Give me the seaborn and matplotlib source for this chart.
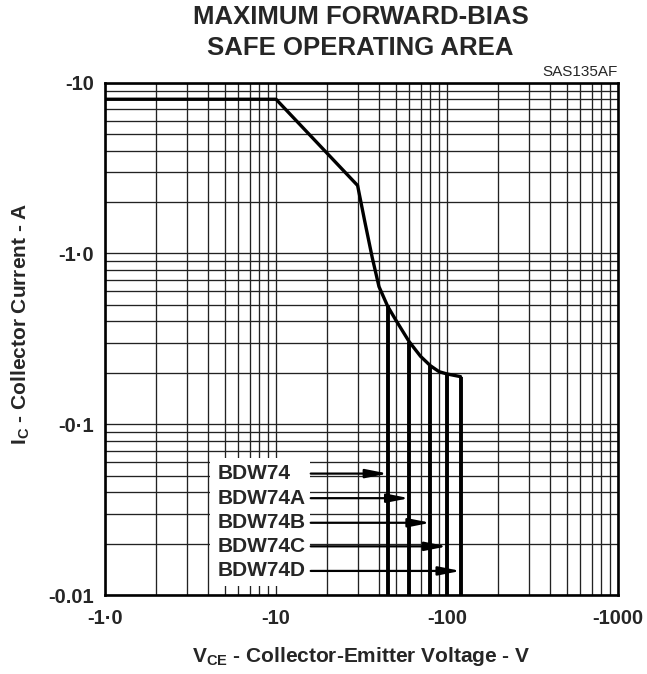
import numpy as np
import pandas as pd
import matplotlib
matplotlib.use("Agg")
import matplotlib.pyplot as plt
from matplotlib.ticker import LogLocator, FixedLocator, FixedFormatter, NullFormatter
from matplotlib.patches import Rectangle
import seaborn as sns

# ---- data (magnitudes; axes show negative values for PNP device) ----
soa_voltage = [1, 10, 30, 33, 36.5, 40, 45, 50, 60, 70, 80, 90, 100, 120]
soa_current = [8, 8, 2.5, 1.55, 0.95, 0.64, 0.49, 0.41, 0.305, 0.25, 0.22, 0.203, 0.197, 0.19]
device_names = ["BDW74", "BDW74A", "BDW74B", "BDW74C", "BDW74D"]
device_vceo = [45, 60, 80, 100, 120]
x_ticks = [1, 10, 100, 1000]
x_ticklabels = ["-1·0", "-10", "-100", "-1000"]
y_ticks = [0.01, 0.1, 1, 10]
y_ticklabels = ["-0.01", "-0·1", "-1·0", "-10"]
x_limits = (1, 1000)
y_limits = (0.01, 10)

sns.set_theme(style="white")
plt.rcParams["font.family"] = ["Liberation Sans", "DejaVu Sans"]
plt.rcParams["mathtext.fontset"] = "custom"
plt.rcParams["mathtext.rm"] = "Liberation Sans:bold"
plt.rcParams["mathtext.bf"] = "Liberation Sans:bold"

fig = plt.figure(figsize=(6.47, 6.74), dpi=100)
ax = fig.add_axes([0.1623, 0.1172, 0.7929, 0.7601])

df = pd.DataFrame({"V": soa_voltage, "I": soa_current})
sns.lineplot(data=df, x="V", y="I", sort=False, ax=ax, color="black",
             lw=2.4, zorder=4, solid_joinstyle="miter")

# vertical limits at each device rating, from the curve down to the axis floor
logV = np.log10(soa_voltage)
logI = np.log10(soa_current)
tops = 10 ** np.interp(np.log10(device_vceo), logV, logI)
ax.vlines(device_vceo, y_limits[0], tops, colors="black", lw=2.8, zorder=4)

ax.set_xscale("log")
ax.set_yscale("log")
ax.set_xlim(*x_limits)
ax.set_ylim(*y_limits)

ax.xaxis.set_major_locator(FixedLocator(x_ticks))
ax.xaxis.set_major_formatter(FixedFormatter(x_ticklabels))
ax.yaxis.set_major_locator(FixedLocator(y_ticks))
ax.yaxis.set_major_formatter(FixedFormatter(y_ticklabels))
ax.xaxis.set_minor_locator(LogLocator(base=10, subs=np.arange(2, 10)))
ax.yaxis.set_minor_locator(LogLocator(base=10, subs=np.arange(2, 10)))
ax.xaxis.set_minor_formatter(NullFormatter())
ax.yaxis.set_minor_formatter(NullFormatter())
ax.tick_params(which="both", length=0)
ax.tick_params(axis="x", pad=10, labelsize=14.5)
ax.tick_params(axis="y", pad=8, labelsize=14.5)
for lab in ax.get_xticklabels() + ax.get_yticklabels():
    lab.set_fontweight("bold")

ax.set_axisbelow(True)
ax.grid(which="both", color="#222222", lw=0.95)
for s in ax.spines.values():
    s.set_color("black")
    s.set_linewidth(1.9)
    s.set_zorder(5)

ax.set_xlabel(r"V$_{\mathbf{CE}}$ - Collector-Emitter Voltage - V",
              fontsize=15, fontweight="bold", labelpad=12)
ax.set_ylabel(r"I$_{\mathbf{C}}$ - Collector Current - A",
              fontsize=15, fontweight="bold", labelpad=12)
ax.yaxis.label.set_y(0.529)

# label box
ax.add_patch(Rectangle((0.204, 0.0185), 0.196, 0.2485, transform=ax.transAxes,
                       facecolor="white", edgecolor="none", zorder=1))
label_y = [0.237, 0.189, 0.141, 0.095, 0.047]
for name, v, yf in zip(device_names, device_vceo, label_y):
    ax.text(0.219, yf, name, transform=ax.transAxes, ha="left", va="center",
            fontsize=15, fontweight="bold", zorder=6)
    ax.annotate("", xy=(v, yf), xycoords=("data", "axes fraction"),
                xytext=(0.401, yf), textcoords="axes fraction",
                arrowprops=dict(arrowstyle="-|>,head_length=1.1,head_width=0.22",
                                color="black", lw=1.6, shrinkA=0, shrinkB=0),
                zorder=6)

fig.text(0.557, 1 - 17 / 674, "MAXIMUM FORWARD-BIAS", ha="center", va="center",
         fontsize=18.5, fontweight="bold")
fig.text(0.557, 1 - 48 / 674, "SAFE OPERATING AREA", ha="center", va="center",
         fontsize=18.5, fontweight="bold")
fig.text(0.955, 1 - 72 / 674, "SAS135AF", ha="right", va="center", fontsize=11)

fig.savefig("out.png", dpi=100)
